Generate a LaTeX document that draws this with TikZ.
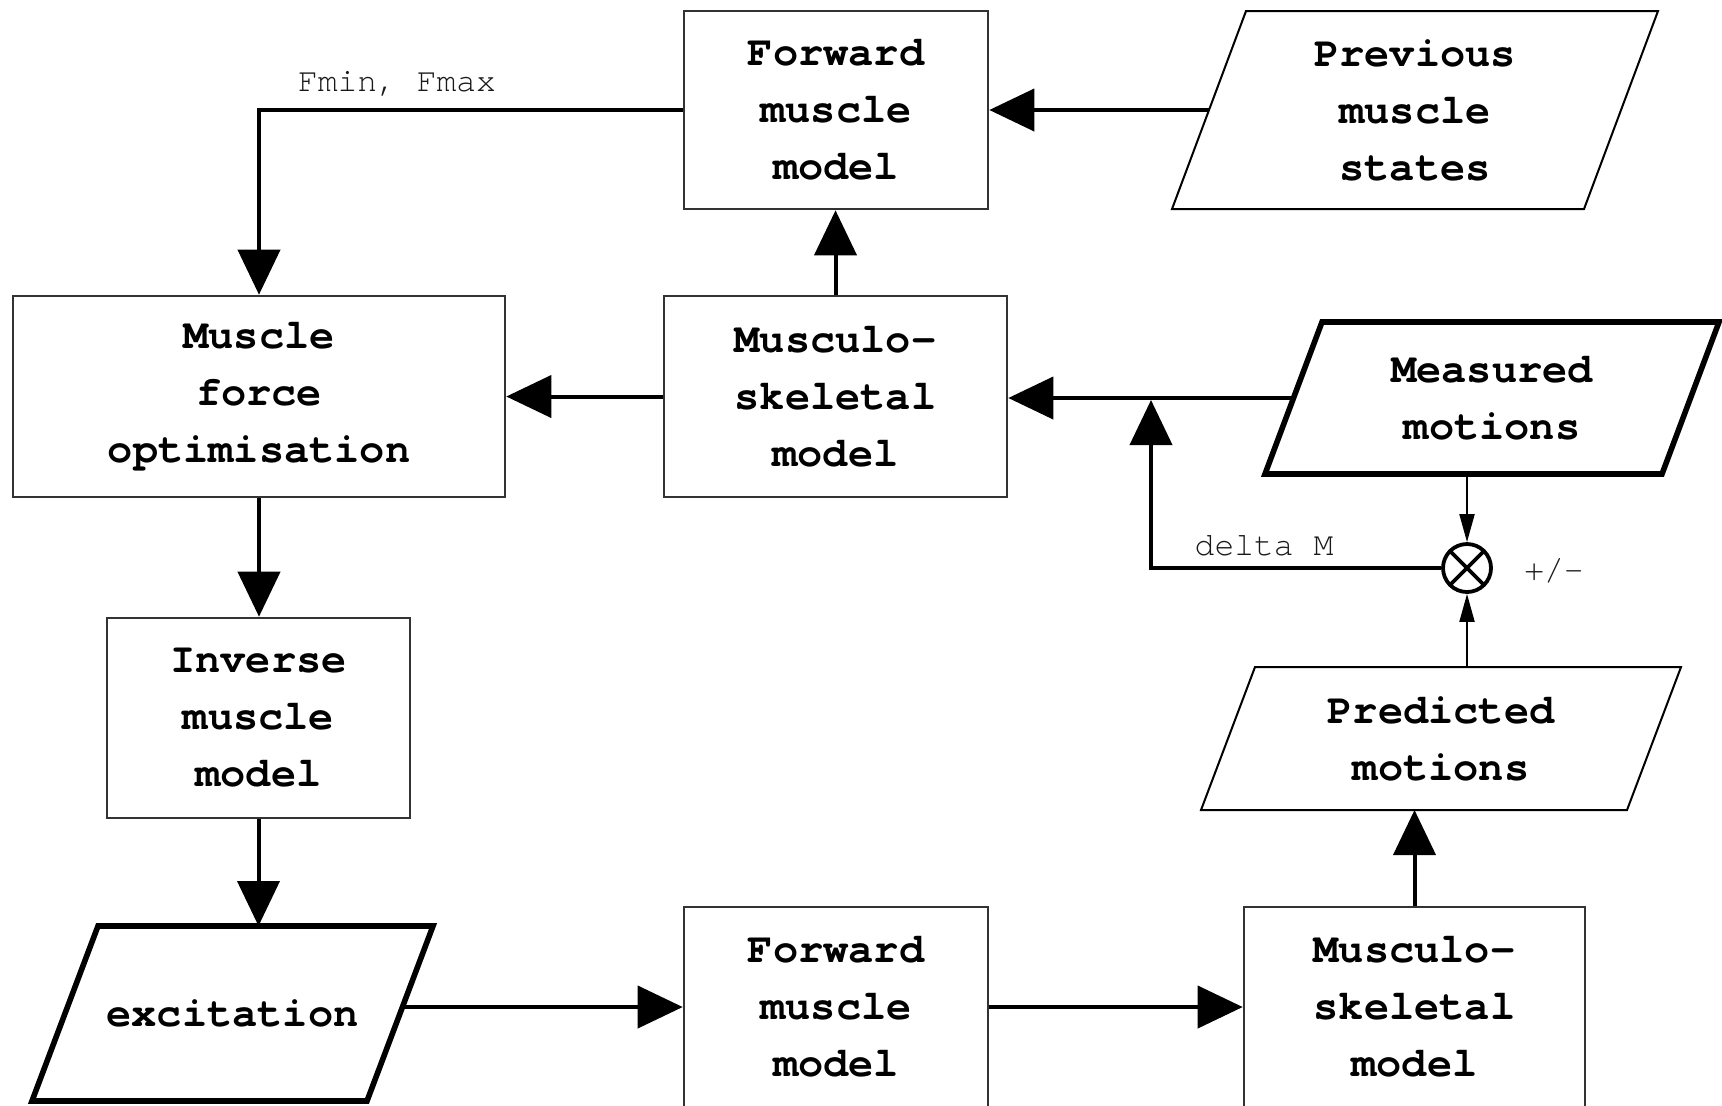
\documentclass[tikz,border=0pt]{standalone}
\usepackage{fontspec}
\newfontfamily\monofam{TeX Gyre Cursor}
\usetikzlibrary{arrows.meta,calc}

\begin{document}
\begin{tikzpicture}[x=0.5pt,y=-0.5pt,
  boxtext/.style={font=\monofam\bfseries\fontsize{21pt}{28.5pt}\selectfont, align=center, text=black},
  procbox/.style={boxtext, draw=black!80, line width=1.3pt, inner sep=0pt},
  databox/.style={boxtext, inner sep=0pt, outer sep=0pt},
  thinpara/.style={draw=black, line width=1pt, line join=miter},
  thickpara/.style={draw=black, line width=2.8pt, line join=miter},
  flow/.style={line width=2pt, -{Triangle[length=22.5pt,width=21pt]}},
  fine/.style={line width=1pt, -{Triangle[length=14pt,width=7.5pt]}},
  lbl/.style={font=\monofam\fontsize{16.5pt}{19pt}\selectfont, text=black!90, inner sep=0pt}
]
\useasboundingbox (0,0) rectangle (1722,1105);
\fill[white] (0,0) rectangle (1722,1105);

% process boxes
\node[procbox, minimum width=152pt, minimum height=99pt] (fmmA) at (836,110) {Forward\\muscle\\model};
\node[procbox, minimum width=246pt, minimum height=100.5pt] (mfo) at (259,396.5) {Muscle\\force\\optimisation};
\node[procbox, minimum width=171.5pt, minimum height=100.5pt] (msA) at (835.5,396.5) {Musculo-\\skeletal\\model};
\node[procbox, minimum width=151.5pt, minimum height=100pt] (imm) at (258.5,718) {Inverse\\muscle\\model};
\node[procbox, minimum width=152pt, minimum height=100pt] (fmmB) at (836,1007) {Forward\\muscle\\model};
\node[procbox, minimum width=170.5pt, minimum height=100pt] (msB) at (1414.5,1007) {Musculo-\\skeletal\\model};

% data (parallelogram) boxes: node is the mid-width rectangle, outline drawn slanted
\node[databox, minimum width=206pt, minimum height=99pt] (pms) at (1415,110) {Previous\\muscle\\states};
\draw[thinpara] ([xshift=18.5pt]pms.north west) -- ([xshift=18.5pt]pms.north east)
  -- ([xshift=-18.5pt]pms.south east) -- ([xshift=-18.5pt]pms.south west) -- cycle;

\node[databox, minimum width=198.5pt, minimum height=76pt] (mm) at (1492,398) {Measured\\motions};
\draw[thickpara] ([xshift=14.25pt]mm.north west) -- ([xshift=14.25pt]mm.north east)
  -- ([xshift=-14.25pt]mm.south east) -- ([xshift=-14.25pt]mm.south west) -- cycle;

\node[databox, minimum width=213pt, minimum height=71.5pt] (pm) at (1441,738.5) {Predicted\\motions};
\draw[thinpara] ([xshift=13.5pt]pm.north west) -- ([xshift=13.5pt]pm.north east)
  -- ([xshift=-13.5pt]pm.south east) -- ([xshift=-13.5pt]pm.south west) -- cycle;

\node[databox, minimum width=167.5pt, minimum height=87.5pt] (exc) at (232.5,1013.5) {excitation};
\draw[thickpara] ([xshift=16.5pt]exc.north west) -- ([xshift=16.5pt]exc.north east)
  -- ([xshift=-16.5pt]exc.south east) -- ([xshift=-16.5pt]exc.south west) -- cycle;

% comparator
\node[draw, circle, line width=1.9pt, minimum size=24pt, inner sep=0pt,
  path picture={\draw[line width=1.9pt]
    (path picture bounding box.north west) -- (path picture bounding box.south east)
    (path picture bounding box.north east) -- (path picture bounding box.south west);}]
  (sum) at (1467,568) {};

% connectors
\draw[flow] (fmmA.west) -| (mfo.north);
\draw[flow] (pms.west) -- (fmmA.east);
\draw[flow] (msA.north) -- (msA.north |- fmmA.south);
\draw[flow] (msA.west) -- (mfo.east);
\draw[flow] (mm.west) -- (mm.west -| msA.east);
\draw[flow] (mfo.south) -- (mfo.south |- imm.north);
\draw[flow] (imm.south) -- (imm.south |- exc.north);
\draw[flow] (exc.east |- fmmB.west) -- (fmmB.west);
\draw[flow] (fmmB.east) -- (msB.west);
\draw[flow] (msB.north) -- (msB.north |- pm.south);
\draw[fine] (sum.north |- mm.south) -- (sum.north);
\draw[fine] (sum.south |- pm.north) -- (sum.south);
\coordinate (junc) at (1151,398);
\draw[flow, shorten >=1pt] (sum.west) -| (junc);

% labels
\node[lbl, anchor=base] (lblF) at (397,91) {Fmin, Fmax};
\node[lbl, anchor=base] (lblD) at (1264,555) {delta M};
\node[lbl] (lblS) at (1554,571) {+/-};
\end{tikzpicture}
\end{document}
